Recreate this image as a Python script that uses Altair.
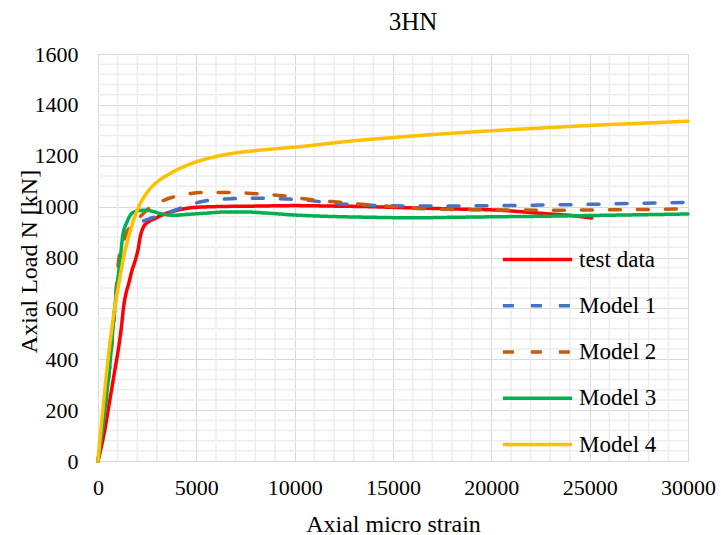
import altair as alt
import pandas as pd

series_names = ["test data", "Model 1", "Model 2", "Model 3", "Model 4"]
series_colors = ["#FF0000", "#4472C4", "#C55A11", "#00B050", "#FFC000"]

test_strain = [0, 200, 370, 540, 710, 880, 1050, 1190, 1300, 1420, 1560, 1730, 1900, 2030, 2150, 2320, 2580,
               2920, 3250, 3760, 4270, 4950, 6000, 8000, 10000, 12000, 13700, 15500, 17000, 18500, 20400,
               21500, 22800, 24200, 25100]
test_load = [0, 66, 132, 211, 290, 368, 447, 526, 605, 658, 697, 750, 790, 829, 882, 921, 941,
             954, 967, 980, 990, 997, 1000, 1002, 1004, 1002, 1000, 996, 993, 990, 986,
             980, 972, 964, 955]

m1_strain = [0, 340, 630, 850, 1050, 1250, 1450, 1800, 2100, 2600, 3200, 3700, 4400, 5300, 6500, 8000, 9500,
             10500, 12000, 13500, 15000, 17500, 20000, 22500, 25000, 27500, 30000]
m1_load = [0, 197, 400, 600, 760, 860, 900, 925, 937, 952, 967, 980, 1000, 1020, 1030, 1033, 1030,
           1026, 1013, 1006, 1003, 1002, 1004, 1006, 1009, 1013, 1017]

m2_strain = [0, 340, 630, 850, 1050, 1250, 1450, 1800, 2200, 2700, 3200, 3700, 4100, 4800, 5500, 6700, 7600,
             8400, 9400, 10300, 11000, 12300, 13600, 15000, 16500, 18000, 20400, 23000, 25500, 28000, 30000]
m2_load = [0, 197, 400, 600, 790, 850, 895, 930, 965, 1000, 1020, 1035, 1043, 1053, 1056, 1056, 1053,
           1049, 1043, 1033, 1026, 1017, 1008, 1000, 992, 989, 987, 986, 987, 989, 991]

m3_strain = [0, 340, 630, 850, 1000, 1140, 1250, 1480, 1730, 2070, 2400, 2750, 3100, 3400, 3900, 4450, 5450,
             6500, 7500, 8500, 10000, 12000, 14000, 16000, 18000, 20000, 22500, 25000, 27500, 30000]
m3_load = [0, 197, 400, 600, 711, 800, 882, 941, 974, 984, 986, 982, 974, 969, 966, 969, 974,
           979, 979, 975, 967, 961, 958, 956, 958, 960, 962, 965, 968, 971]

m4_strain = [0, 90, 240, 510, 850, 1090, 1300, 1560, 1810, 2070, 2410, 2750, 3090, 3660, 4680, 6370, 8000,
             9100, 10300, 12500, 15400, 17500, 20400, 23000, 25500, 28000, 30000]
m4_load = [0, 79, 197, 399, 601, 711, 800, 882, 947, 1000, 1046, 1079, 1102, 1130, 1167, 1203, 1220,
           1228, 1236, 1255, 1274, 1286, 1300, 1311, 1321, 1329, 1336]

x_major = [0, 5000, 10000, 15000, 20000, 25000, 30000]
y_major = [0, 200, 400, 600, 800, 1000, 1200, 1400, 1600]
x_minor = [v for v in range(1000, 30000, 1000) if v % 5000 != 0]
y_minor = [v for v in range(40, 1600, 40) if v % 200 != 0]

rows = []
for name, xs, ys in zip(series_names,
                        [test_strain, m1_strain, m2_strain, m3_strain, m4_strain],
                        [test_load, m1_load, m2_load, m3_load, m4_load]):
    for i, (a, b) in enumerate(zip(xs, ys)):
        rows.append({"series": name, "strain": a, "load": b, "idx": i})
df = pd.DataFrame(rows)

FONT = "Liberation Serif"
FS = 22
TFS = 24

xscale = alt.Scale(domain=[0, 30000], nice=False, zero=False)
yscale = alt.Scale(domain=[0, 1600], nice=False, zero=False)

x_axis = alt.Axis(title="Axial micro strain", values=x_major, format="d", grid=True,
                  gridColor="#D9D9D9", gridWidth=1, domainColor="#D9D9D9", domainWidth=1,
                  ticks=False, labelPadding=16, labelFontSize=FS, labelFont=FONT,
                  labelColor="#000000", labelFlush=False,
                  titleFont=FONT, titleFontSize=TFS, titleFontWeight="normal", titleColor="#000000",
                  titleY=70, titleBaseline="alphabetic")
y_axis = alt.Axis(title="Axial Load N [kN]", values=y_major, format="d", grid=True,
                  gridColor="#D9D9D9", gridWidth=1, domain=False,
                  ticks=False, labelPadding=20, labelFontSize=FS, labelFont=FONT,
                  labelColor="#000000",
                  titleFont=FONT, titleFontSize=TFS, titleFontWeight="normal", titleColor="#000000",
                  titleX=-62, titleY=207, titleAlign="center", titleBaseline="alphabetic")

xminor = alt.Chart(pd.DataFrame({"v": x_minor})).mark_rule(color="#EDEDED", strokeWidth=1.5).encode(
    x=alt.X("v:Q", scale=xscale, axis=x_axis))
yminor = alt.Chart(pd.DataFrame({"v": y_minor})).mark_rule(color="#EDEDED", strokeWidth=1.5).encode(
    y=alt.Y("v:Q", scale=yscale, axis=y_axis))

lines = alt.Chart(df).mark_line(strokeWidth=3.5, strokeCap="round", strokeJoin="round", interpolate="monotone").encode(
    x=alt.X("strain:Q", scale=xscale, axis=x_axis),
    y=alt.Y("load:Q", scale=yscale, axis=y_axis),
    color=alt.Color("series:N", scale=alt.Scale(domain=series_names, range=series_colors),
                    legend=alt.Legend(title=None, orient="none", legendX=428, legendY=194,
                                      symbolType="M-4,0H4", symbolSize=300, symbolStrokeWidth=3.5,
                                      labelFont=FONT, labelFontSize=23,
                                      labelColor="#000000",
                                      labelOffset=30, rowPadding=22.25, padding=0)),
    strokeDash=alt.StrokeDash("series:N",
                              scale=alt.Scale(domain=series_names,
                                              range=[[1, 0], [11, 17], [11, 17], [1, 0], [1, 0]]),
                              legend=None),
    detail="series:N",
    order="idx:Q",
)

chart = alt.layer(xminor, yminor, lines).properties(
    width=590, height=407,
    title=alt.TitleParams("3HN", font=FONT, fontSize=25, fontWeight="normal", color="#000000",
                          anchor="middle", dx=20, offset=8),
    padding={"left": 98, "top": 54, "right": 33, "bottom": 74},
    autosize=alt.AutoSizeParams(type="none"),
).configure_view(stroke=None).configure(background="#FFFFFF")

chart.save("out.html", embed_options={"renderer": "svg", "actions": False})
